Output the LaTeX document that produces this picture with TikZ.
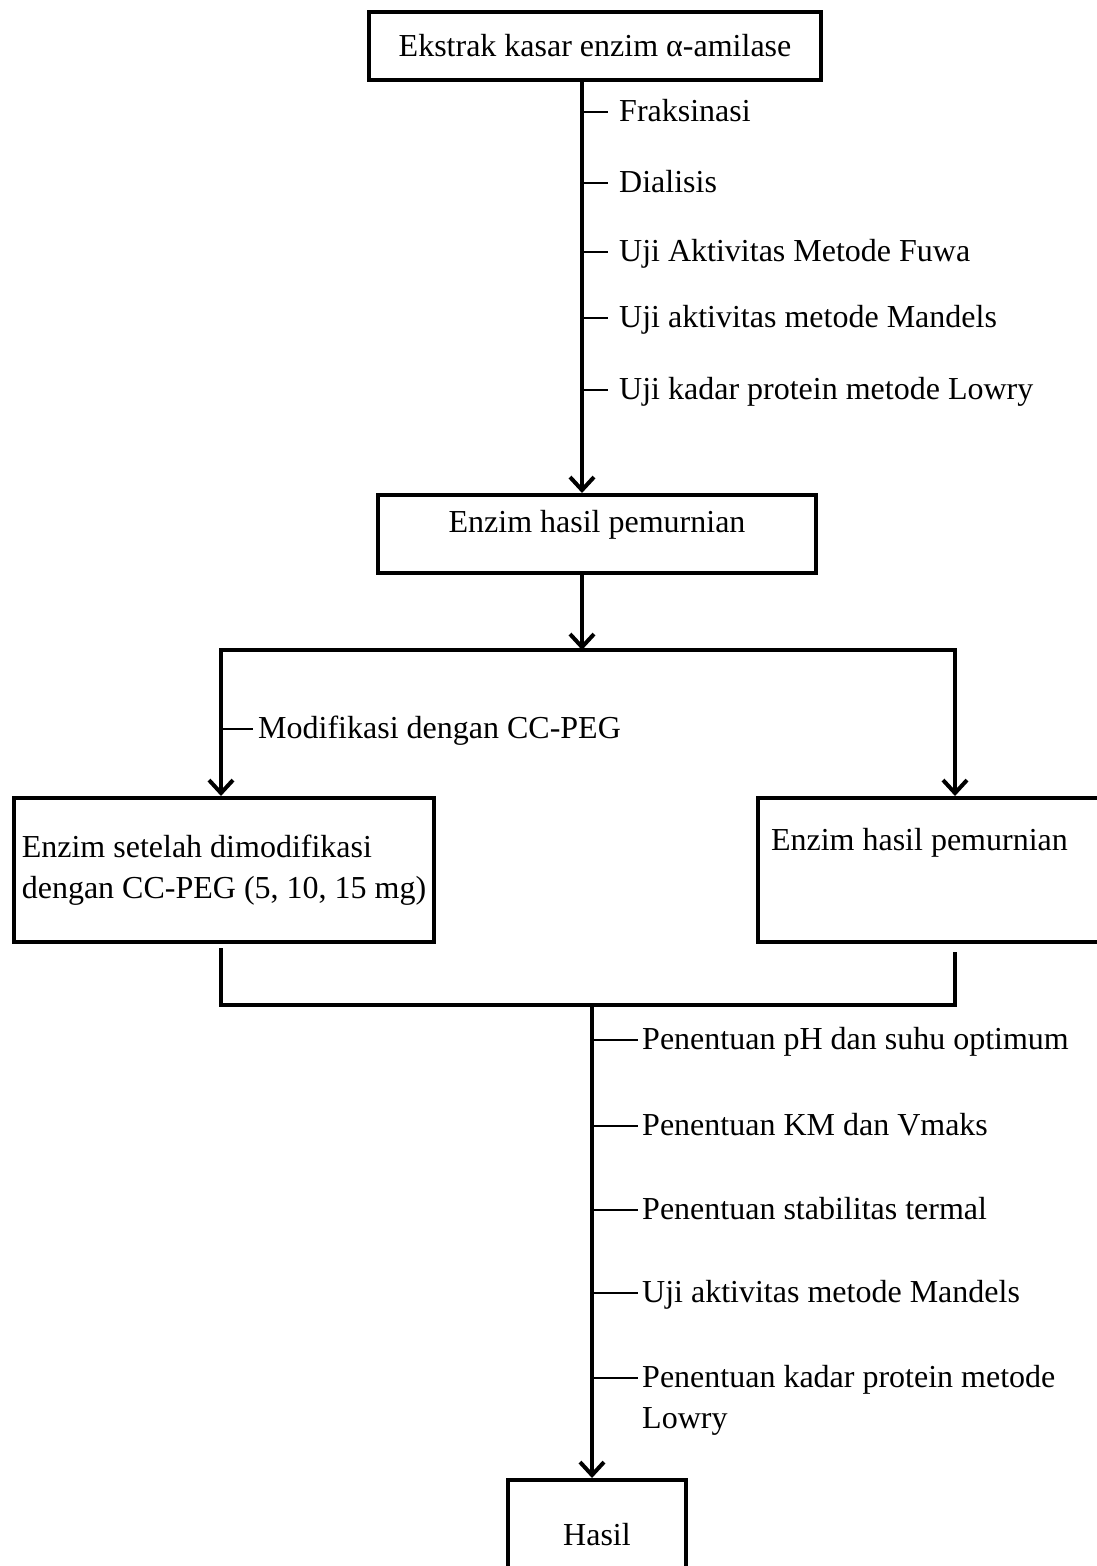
\documentclass[tikz,border=0pt]{standalone}
\usepackage{fontspec}
\setmainfont{Liberation Serif}
\usetikzlibrary{arrows.meta,positioning}

\begin{document}
\begin{tikzpicture}[x=1pt, y=-1pt,
    every node/.style={font=\fontsize{32}{41}\selectfont, inner sep=0pt},
    box/.style={draw, line width=4pt, inner xsep=8pt, inner ysep=0pt},
    flow/.style={-{Straight Barb[length=13pt,width=24pt]}, line width=4pt},
    link/.style={line width=4pt},
    tick/.style={line width=2pt},
    lbl/.style={anchor=base west, align=flush left}
]
\useasboundingbox (0,0) rectangle (1097,1566);
\clip (0,0) rectangle (1097,1566);

% boxes
\node[box, minimum width=452pt, minimum height=68pt] (crude) at (595,46) {Ekstrak kasar enzim α-amilase};
\node[box, minimum width=438pt, minimum height=78pt, text depth=26pt] (pure) at (597,534) {Enzim hasil pemurnian};
\node[box, minimum width=420pt, minimum height=144pt, align=flush left] (mod) at (224,870) {Enzim setelah dimodifikasi\\dengan CC-PEG (5, 10, 15 mg)};
\node[box, minimum width=352pt, minimum height=144pt, inner xsep=13pt, text width=326pt, align=flush left, text depth=62pt] (pure2) at (934,870) {Enzim hasil pemurnian};
\node[box, minimum width=178pt, minimum height=110pt] (result) at (597,1535) {Hasil};

% spine points
\coordinate (sp1) at (582,0);
\coordinate (fk) at (582,650);
\coordinate (fkL) at (221,650);
\coordinate (fkR) at (955,650);
\coordinate (jL) at (221,1005);
\coordinate (jR) at (955,1005);
\coordinate (jM) at (592,1005);

% steps of the purification
\node[lbl] (fraks) at (619,121) {Fraksinasi};
\node[lbl] (dial) at (619,192) {Dialisis};
\node[lbl] (fuwa) at (619,261) {Uji Aktivitas Metode Fuwa};
\node[lbl] (mand1) at (619,327) {Uji aktivitas metode Mandels};
\node[lbl] (lowry1) at (619,399) {Uji kadar protein metode Lowry};
\coordinate (t1) at (582,112);
\coordinate (t2) at (582,183);
\coordinate (t3) at (582,252);
\coordinate (t4) at (582,318);
\coordinate (t5) at (582,390);

% steps of the characterisation
\node[lbl] (optim) at (642,1049) {Penentuan pH dan suhu optimum};
\node[lbl] (kinet) at (642,1135) {Penentuan KM dan Vmaks};
\node[lbl] (stab) at (642,1219) {Penentuan stabilitas termal};
\node[lbl] (mand2) at (642,1302) {Uji aktivitas metode Mandels};
% base of a two-line node sits on its last line
\node[lbl] (lowry2) at (642,1428) {Penentuan kadar protein metode\\Lowry};
\coordinate (u1) at (592,1040);
\coordinate (u2) at (592,1126);
\coordinate (u3) at (592,1210);
\coordinate (u4) at (592,1293);
\coordinate (u5) at (592,1378);

\node[lbl] (peg) at (258,738) {Modifikasi dengan CC-PEG};
\coordinate (m1) at (221,729);

% connectors
\draw[flow] (crude.south -| sp1) -- (pure.north -| sp1);
\draw[flow] (pure.south -| sp1) -- (fk);
\draw[flow, {Straight Barb[length=13pt,width=24pt]}-{Straight Barb[length=13pt,width=24pt]}] (mod.north -| fkL) -- (fkL) -- (fkR) -- (pure2.north -| fkR);
\draw[link] ([yshift=-4pt]mod.south -| jL) -- (jL) -- (jR) -- ([yshift=-8pt]pure2.south -| jR);
\draw[flow] (jM) -- (result.north -| jM);

\draw[tick, shorten >=11pt] (t1) -- (t1 -| fraks.west);
\draw[tick, shorten >=11pt] (t2) -- (t2 -| dial.west);
\draw[tick, shorten >=11pt] (t3) -- (t3 -| fuwa.west);
\draw[tick, shorten >=11pt] (t4) -- (t4 -| mand1.west);
\draw[tick, shorten >=11pt] (t5) -- (t5 -| lowry1.west);

\draw[tick, shorten >=4pt] (u1) -- (u1 -| optim.west);
\draw[tick, shorten >=4pt] (u2) -- (u2 -| kinet.west);
\draw[tick, shorten >=4pt] (u3) -- (u3 -| stab.west);
\draw[tick, shorten >=4pt] (u4) -- (u4 -| mand2.west);
\draw[tick, shorten >=4pt] (u5) -- (u5 -| lowry2.west);

\draw[tick, shorten >=5pt] (m1) -- (m1 -| peg.west);
\end{tikzpicture}
\end{document}
